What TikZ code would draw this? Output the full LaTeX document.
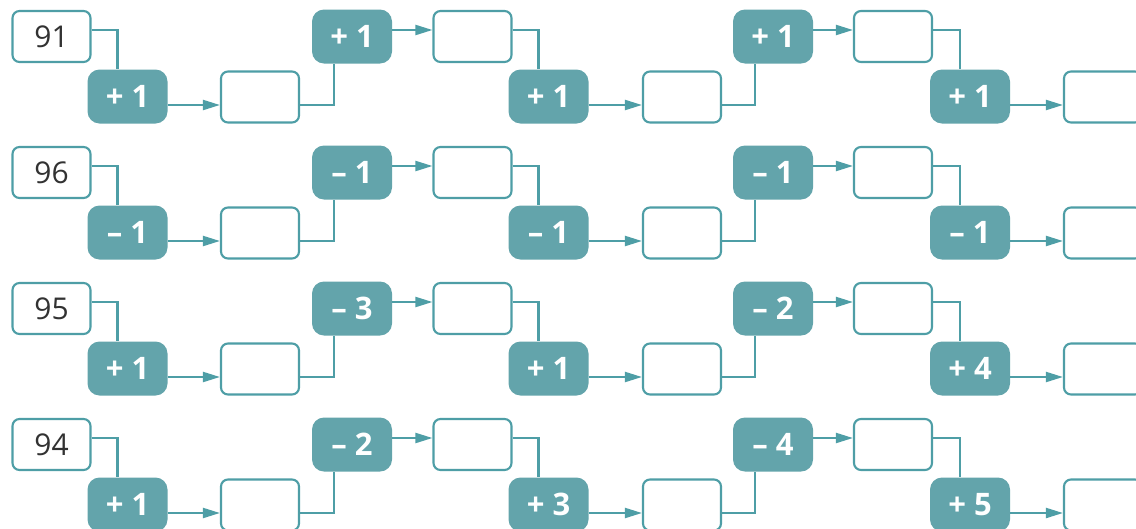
\documentclass[tikz,border=0pt]{standalone}
\usepackage{fontspec}
\setmainfont{Open Sans}
\usetikzlibrary{arrows.meta}
\definecolor{opfill}{RGB}{99,164,171}
\definecolor{linecol}{RGB}{78,158,166}
\definecolor{numtext}{RGB}{50,50,50}
\begin{document}
\begin{tikzpicture}[x=1pt, y=1pt,
    every node/.style={inner sep=0pt, minimum width=78pt, minimum height=51pt},
    numbox/.style={draw=linecol, line width=2.1pt, fill=white, rounded corners=7pt, text=numtext, font=\fontsize{30}{30}\selectfont},
    opbox/.style={fill=opfill, rounded corners=12pt, minimum width=80pt, minimum height=54pt, text=white, font=\fontsize{31}{31}\selectfont\bfseries},
    link/.style={draw=linecol, line width=2.1pt},
    flow/.style={link, -{Triangle[length=17pt, width=10pt]}}]
\useasboundingbox (0,0) rectangle (1136,-528);
\clip (0,0) rectangle (1136,-528);

\foreach \r/\s/\opa/\opb/\opc/\opd/\ope in {
    0/91/+ 1/+ 1/+ 1/+ 1/+ 1,
    1/96/– 1/– 1/– 1/– 1/– 1,
    2/95/+ 1/– 3/+ 1/– 2/+ 4,
    3/94/+ 1/– 2/+ 3/– 4/+ 5}
{
\begin{scope}[yshift={-136*\r}]
\node [numbox] (t\r-1) at (51.5,-36.5) {\s};
\node [opbox]  (b\r-1) at (127.5,-96.5) {\opa};
\node [numbox] (w\r-1) at (260,-97) {};
\node [opbox]  (u\r-1) at (352,-36.5) {\opb};
\node [numbox] (t\r-2) at (472.5,-36.5) {};
\node [opbox]  (b\r-2) at (548.5,-96.5) {\opc};
\node [numbox] (w\r-2) at (682,-97) {};
\node [opbox]  (u\r-2) at (773,-36.5) {\opd};
\node [numbox] (t\r-3) at (893,-36.5) {};
\node [opbox]  (b\r-3) at (970,-96.5) {\ope};
\node [numbox] (w\r-3) at (1103,-97) {};

\foreach \k in {1,2,3} {
    \draw [link] ([yshift=6.5]t\r-\k.east) -| ([xshift=-10]b\r-\k.north);
    \draw [flow] ([yshift=-8.5]b\r-\k.east) -- ([yshift=-8]w\r-\k.west);
}
\foreach \k in {1,2} {
    \pgfmathtruncatemacro\n{\k+1}
    \draw [link] ([yshift=-8]w\r-\k.east) -| ([xshift=-18]u\r-\k.south);
    \draw [flow] ([yshift=6.5]u\r-\k.east) -- ([yshift=6.5]t\r-\n.west);
}
\end{scope}
}
\end{tikzpicture}
\end{document}
